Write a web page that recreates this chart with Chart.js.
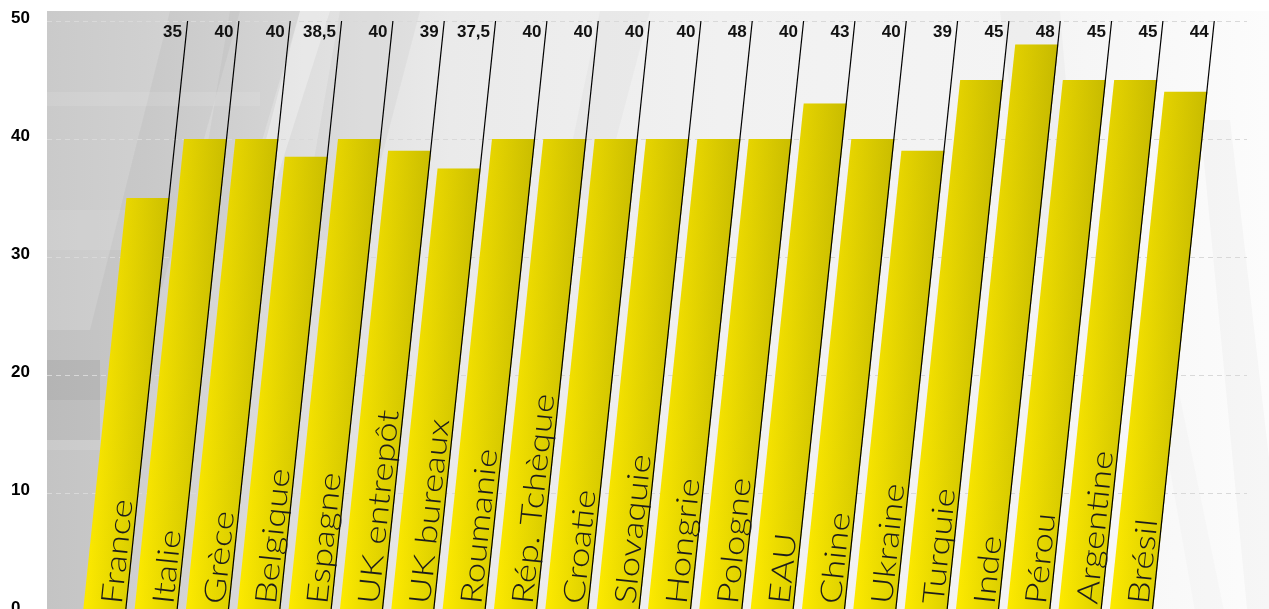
<!DOCTYPE html>
<html>
<head>
<meta charset="utf-8">
<script src="https://cdn.jsdelivr.net/npm/chart.js@4/dist/chart.umd.min.js"></script>
<style>
  html, body { margin: 0; padding: 0; width: 1269px; height: 609px; overflow: hidden; background: #fff; }
  #wrap { position: relative; width: 1269px; height: 640px; }
</style>
</head>
<body>
<div id="wrap"><canvas id="c" width="1269" height="640"></canvas></div>
<script>
// ---- data ----
const categories = ['France', 'Italie', 'Grèce', 'Belgique', 'Espagne', 'UK entrepôt', 'UK bureaux', 'Roumanie', 'Rép. Tchèque', 'Croatie', 'Slovaquie', 'Hongrie', 'Pologne', 'EAU', 'Chine', 'Ukraine', 'Turquie', 'Inde', 'Pérou', 'Argentine', 'Brésil'];
const values = [35, 40, 40, 38.5, 40, 39, 37.5, 40, 40, 40, 40, 40, 40, 43, 40, 39, 45, 48, 45, 45, 44];
const valueLabels = ['35', '40', '40', '38,5', '40', '39', '37,5', '40', '40', '40', '40', '48', '40', '43', '40', '39', '45', '48', '45', '45', '44'];
const yMin = 0, yMax = 50, yStep = 10;

// ---- style constants ----
const SLANT = 0.105;
const W = 1269, H = 640;

function drawBackground(ctx) {
  ctx.save();
  ctx.fillStyle = '#ffffff';
  ctx.fillRect(0, 0, W, H);
  ctx.beginPath();
  ctx.rect(47, 11, W - 47, H);
  ctx.clip();
  const g = ctx.createLinearGradient(47, 0, W, 0);
  g.addColorStop(0.00, '#cacaca');
  g.addColorStop(0.08, '#d0d0d0');
  g.addColorStop(0.20, '#dddddd');
  g.addColorStop(0.33, '#eaeaea');
  g.addColorStop(0.55, '#f1f1f1');
  g.addColorStop(0.80, '#f4f4f4');
  g.addColorStop(1.00, '#fcfcfc');
  ctx.fillStyle = g;
  ctx.fillRect(47, 11, W - 47, H);
  const poly = (pts, col) => {
    ctx.beginPath();
    ctx.moveTo(pts[0][0], pts[0][1]);
    for (let i = 1; i < pts.length; i++) ctx.lineTo(pts[i][0], pts[i][1]);
    ctx.closePath();
    ctx.fillStyle = col;
    ctx.fill();
  };
  poly([[170, 11], [240, 11], [150, 330], [90, 330]], 'rgba(120,120,120,0.08)');
  poly([[230, 11], [300, 11], [230, 250], [190, 250]], 'rgba(110,110,110,0.07)');
  poly([[300, 11], [330, 11], [270, 200], [250, 200]], 'rgba(255,255,255,0.30)');
  poly([[47, 330], [140, 330], [140, 400], [47, 400]], 'rgba(90,90,90,0.07)');
  poly([[47, 360], [100, 360], [100, 440], [47, 440]], 'rgba(70,70,70,0.10)');
  poly([[47, 92], [260, 92], [260, 106], [47, 106]], 'rgba(255,255,255,0.10)');
  poly([[47, 210], [200, 210], [200, 250], [47, 250]], 'rgba(255,255,255,0.08)');
  poly([[47, 450], [120, 450], [120, 640], [47, 640]], 'rgba(100,100,100,0.05)');
  poly([[340, 11], [420, 11], [360, 240], [300, 240]], 'rgba(130,130,130,0.07)');
  poly([[600, 11], [650, 11], [600, 200], [560, 200]], 'rgba(140,140,140,0.05)');
  poly([[1000, 11], [1060, 11], [1080, 250], [1030, 250]], 'rgba(140,140,140,0.05)');
  poly([[1200, 120], [1230, 120], [1290, 640], [1250, 640]], 'rgba(150,150,150,0.06)');
  poly([[1140, 300], [1160, 300], [1230, 640], [1200, 640]], 'rgba(150,150,150,0.04)');
  ctx.restore();
}

const slantPlugin = {
  id: 'slant',
  beforeDraw(chart) {
    drawBackground(chart.ctx);
  },
  beforeDatasetsDraw(chart) {
    const { ctx, scales: { y } } = chart;
    ctx.save();
    ctx.setLineDash([5, 4]);
    ctx.strokeStyle = '#d9d9d9';
    ctx.lineWidth = 1;
    y.ticks.forEach(t => {
      const py = Math.round(y.getPixelForValue(t.value)) + 0.5;
      ctx.beginPath();
      ctx.moveTo(47, py);
      ctx.lineTo(1247, py);
      ctx.stroke();
    });
    ctx.restore();
    const b = y.getPixelForValue(0);
    ctx.save();
    ctx.transform(1, 0, -SLANT, 1, SLANT * b, 0);
  },
  afterDatasetsDraw(chart) {
    const { ctx, chartArea } = chart;
    const meta = chart.getDatasetMeta(0);
    meta.data.forEach(el => {
      const { x, y: top, base, width } = el.getProps(['x', 'y', 'base', 'width'], true);
      const g = ctx.createLinearGradient(0, base, 0, chartArea.top);
      g.addColorStop(0, 'rgba(60,50,0,0)');
      g.addColorStop(1, 'rgba(60,50,0,0.15)');
      ctx.fillStyle = g;
      ctx.fillRect(x - width / 2, top, width, base - top);
      ctx.beginPath();
      ctx.moveTo(x + width / 2 - 0.6, base + 20);
      ctx.lineTo(x + width / 2 - 0.6, chartArea.top);
      ctx.strokeStyle = '#000';
      ctx.lineWidth = 1.2;
      ctx.stroke();
    });
    ctx.restore();

    ctx.save();
    ctx.font = '300 30px Lato, "DejaVu Sans", sans-serif';
    ctx.fillStyle = '#1c1c1c';
    ctx.textAlign = 'left';
    ctx.textBaseline = 'alphabetic';
    meta.data.forEach((el, i) => {
      const { x, base, width } = el.getProps(['x', 'base', 'width'], true);
      const sy = 605;
      const sx = (x + width / 2 - 5) + SLANT * (base - sy);
      ctx.save();
      ctx.translate(sx, sy);
      ctx.rotate(-Math.PI / 2 + Math.atan(SLANT));
      ctx.scale(1.22, 1);
      ctx.fillText(categories[i], 0, 0);
      ctx.restore();
    });
    ctx.font = 'bold 17px "Liberation Sans"';
    ctx.fillStyle = '#111';
    ctx.textAlign = 'right';
    ctx.textBaseline = 'middle';
    meta.data.forEach((el, i) => {
      const { x, base, width } = el.getProps(['x', 'base', 'width'], true);
      const sy = 32;
      const sx = (x + width / 2) + SLANT * (base - sy) - 5;
      ctx.fillText(valueLabels[i], sx, sy);
    });
    ctx.restore();
  }
};

function barGradient(c) {
  const chart = c.chart;
  const xs = chart.scales && chart.scales.x;
  const area = chart.chartArea;
  if (!xs || !area || c.dataIndex === undefined) return '#f5e400';
  const cx = xs.getPixelForValue(c.dataIndex);
  const half = (area.right - area.left) / categories.length * 0.84 / 2;
  const g = chart.ctx.createLinearGradient(cx - half, 0, cx + half, 0);
  g.addColorStop(0, '#fdea00');
  g.addColorStop(1, '#ddd000');
  return g;
}

new Chart(document.getElementById('c'), {
  type: 'bar',
  data: {
    labels: categories,
    datasets: [{
      data: values,
      backgroundColor: barGradient,
      borderWidth: 0,
      barPercentage: 0.84,
      categoryPercentage: 1,
      clip: false
    }]
  },
  options: {
    responsive: false,
    animation: false,
    events: [],
    layout: { padding: { left: 11, right: 112, top: 21, bottom: 29 } },
    plugins: { legend: { display: false }, tooltip: { enabled: false } },
    scales: {
      x: { display: false },
      y: {
        min: yMin, max: yMax,
        grid: { display: false, drawTicks: false },
        border: { display: false },
        ticks: {
          stepSize: yStep,
          padding: 0,
          crossAlign: 'far',
          labelOffset: -3,
          color: '#000',
          font: { family: '"Liberation Sans", Arial, sans-serif', size: 17, weight: 'bold' }
        },
        afterFit(scale) { scale.width = 68; }
      }
    }
  },
  plugins: [slantPlugin]
});
</script>
</body>
</html>
